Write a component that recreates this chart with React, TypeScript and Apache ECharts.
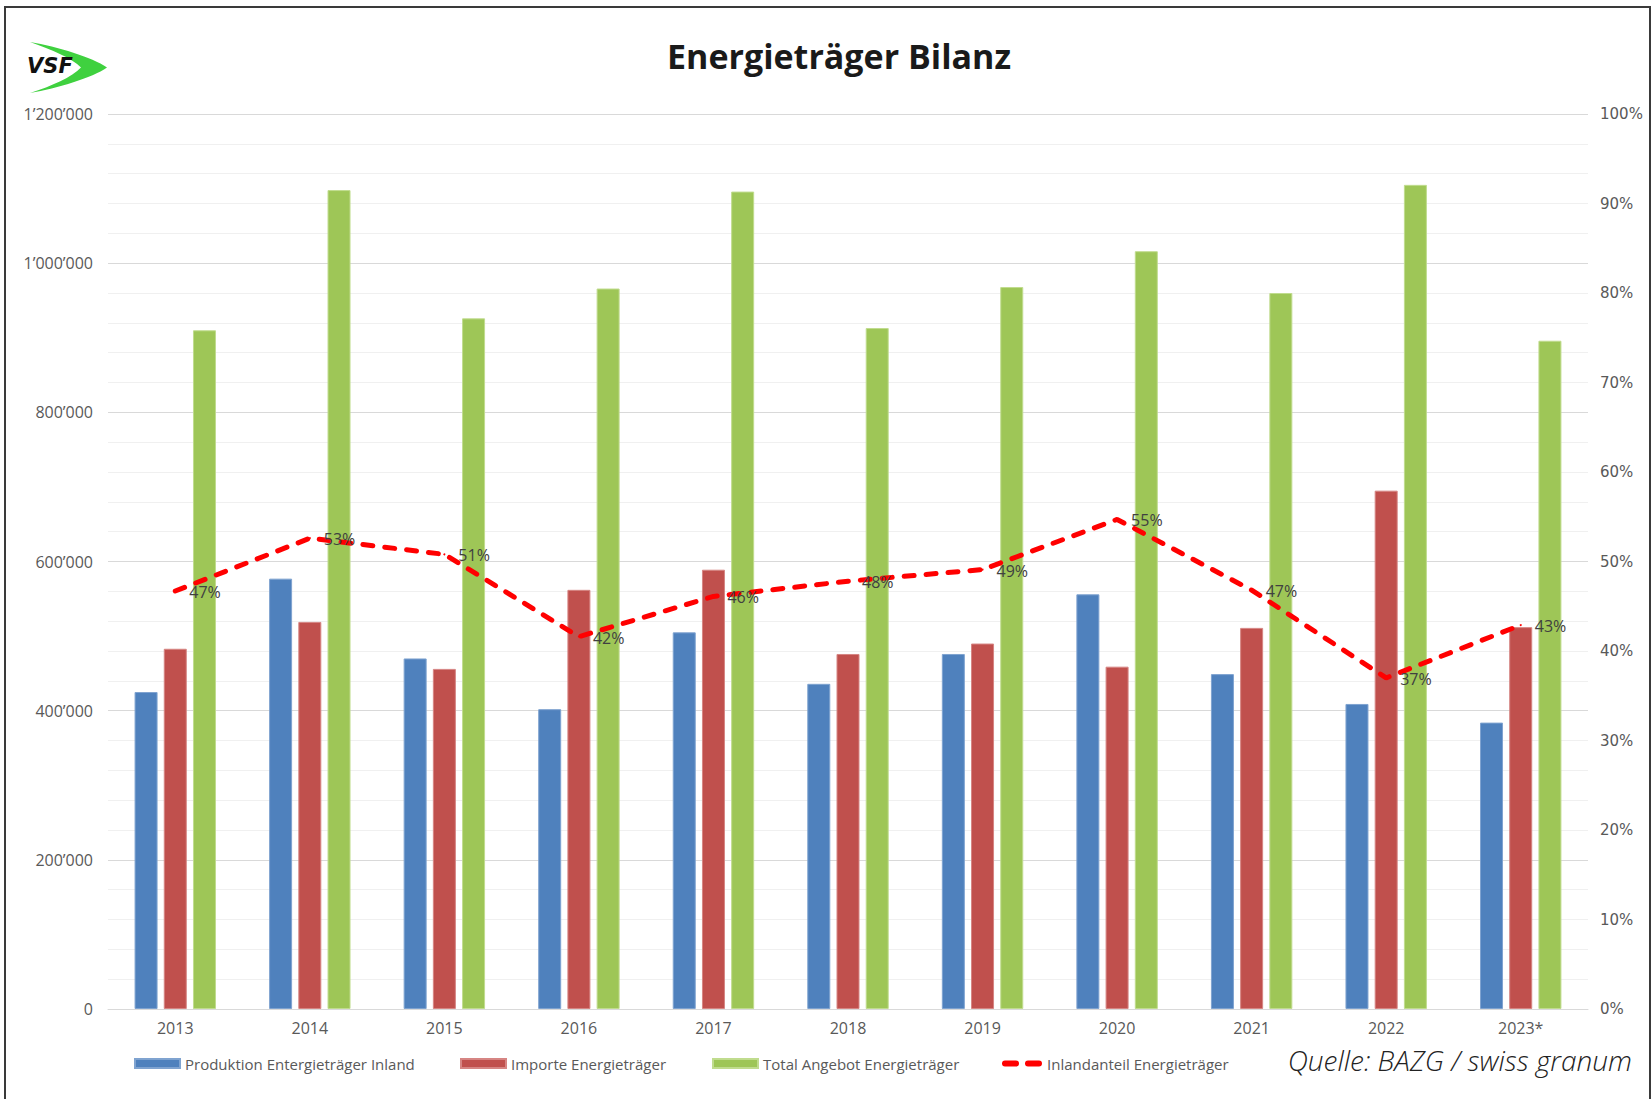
import React, { useEffect, useRef } from 'react';
import * as echarts from 'echarts';

const categories = ['2013', '2014', '2015', '2016', '2017', '2018', '2019', '2020', '2021', '2022', '2023*'];
const produktion = [425000, 577000, 470000, 402000, 505000, 436000, 476000, 556000, 449000, 409000, 384000];
const importe = [483000, 519000, 456000, 562000, 589000, 476000, 490000, 459000, 511000, 695000, 512000];
const totalAngebot = [910000, 1098000, 926000, 966000, 1096000, 913000, 968000, 1016000, 960000, 1105000, 896000];
const inlandanteil = [46.7, 52.6, 50.8, 41.6, 46.1, 47.8, 49.1, 54.7, 46.8, 37.0, 42.9];

const seriesNames = [
  'Produktion Entergieträger Inland',
  'Importe Energieträger',
  'Total Angebot Energieträger',
  'Inlandanteil Energieträger',
];
const titleText = 'Energieträger Bilanz';
const sourceText = 'Quelle: BAZG / swiss granum';

const BLUE = '#4F81BD';
const RED = '#C0504D';
const GREEN = '#9EC657';
const LINE_RED = '#FF0000';
const FONT = '"Open Sans", "Noto Sans", sans-serif';

const swooshPath =
  'M30 42 C58 47 92 57 107 67.5 C92 78 58 88 30 93 C52 86 72 77 81 67.5 C72 58 52 50 30 42 Z';

let registered = false;
function registerShapes() {
  if (registered) return;
  registered = true;
  echarts.graphic.registerShape('vsfSwoosh', echarts.graphic.extendPath(swooshPath, {}));
}

function fmtThousands(v: number): string {
  if (v === 0) return '0';
  return String(v).replace(/\B(?=(\d{3})+(?!\d))/g, '\u2019');
}

export default function App() {
  const ref = useRef<HTMLDivElement>(null);

  useEffect(() => {
    if (!ref.current) return;
    registerShapes();
    const chart = echarts.init(ref.current, undefined, { renderer: 'svg' });

    const legendTop = 1051;
    const legendBase = {
      top: legendTop,
      itemWidth: 45,
      itemHeight: 9,
      textStyle: { fontFamily: FONT, fontSize: 15, color: '#595959' },
      selectedMode: false,
    };

    const option: any = {
      animation: false,
      backgroundColor: '#ffffff',
      grid: { left: 108, right: 63, top: 114, bottom: 90, containLabel: false },
      legend: [
        { ...legendBase, left: 129, data: [{ name: seriesNames[0], icon: 'rect' }] },
        { ...legendBase, left: 455, data: [{ name: seriesNames[1], icon: 'rect' }] },
        { ...legendBase, left: 707, data: [{ name: seriesNames[2], icon: 'rect' }] },
        {
          ...legendBase,
          left: 997,
          itemWidth: 40,
          itemHeight: 6,
          data: [
            {
              name: seriesNames[3],
              icon: 'path://M3,0H14A3,3 0 0 1 14,6H3A3,3 0 0 1 3,0Z M26,0H37A3,3 0 0 1 37,6H26A3,3 0 0 1 26,0Z',
            },
          ],
        },
      ],
      xAxis: {
        type: 'category',
        data: categories,
        boundaryGap: true,
        axisLine: { show: true, lineStyle: { color: '#d9d9d9', width: 1 } },
        axisTick: { show: false },
        axisLabel: { fontFamily: FONT, fontSize: 16, color: '#595959', margin: 11 },
        splitLine: { show: false },
      },
      yAxis: [
        {
          type: 'value',
          min: 0,
          max: 1200000,
          interval: 200000,
          axisLine: { show: false },
          axisTick: { show: false },
          axisLabel: {
            fontFamily: FONT,
            fontSize: 16,
            color: '#595959',
            margin: 15,
            formatter: (v: number) => fmtThousands(v),
          },
          splitLine: { show: true, lineStyle: { color: '#d9d9d9', width: 1 } },
          minorTick: { show: false, splitNumber: 5 },
          minorSplitLine: { show: true, lineStyle: { color: '#f0f0f0', width: 1 } },
        },
        {
          type: 'value',
          min: 0,
          max: 100,
          interval: 10,
          position: 'right',
          axisLine: { show: false },
          axisTick: { show: false },
          splitLine: { show: false },
          axisLabel: {
            fontFamily: '"DejaVu Sans", sans-serif',
            fontSize: 15,
            color: '#595959',
            margin: 12,
            formatter: '{value}%',
          },
        },
      ],
      series: [
        {
          name: seriesNames[0],
          type: 'bar',
          data: produktion,
          barWidth: 23,
          barGap: '27%',
          itemStyle: { color: BLUE, borderColor: '#7fa3d0', borderWidth: 1 },
        },
        {
          name: seriesNames[1],
          type: 'bar',
          data: importe,
          barWidth: 23,
          barGap: '27%',
          itemStyle: { color: RED, borderColor: '#d68583', borderWidth: 1 },
        },
        {
          name: seriesNames[2],
          type: 'bar',
          data: totalAngebot,
          barWidth: 23,
          barGap: '27%',
          itemStyle: { color: GREEN, borderColor: '#c0dc8e', borderWidth: 1 },
        },
        {
          name: seriesNames[3],
          type: 'line',
          yAxisIndex: 1,
          data: inlandanteil,
          symbol: 'circle',
          symbolSize: 2,
          itemStyle: { color: LINE_RED },
          lineStyle: { color: LINE_RED, width: 5, type: [10, 12], cap: 'round' },
          z: 5,
          label: {
            show: true,
            position: 'right',
            distance: 13,
            offset: [0, 1],
            fontFamily: FONT,
            fontSize: 16,
            color: '#404040',
            formatter: (p: any) => Math.round(p.value) + '%',
          },
        },
      ],
      graphic: [
        {
          type: 'rect',
          shape: { x: 5, y: 7, width: 1645, height: 1100 },
          style: { fill: 'none', stroke: '#3a3a3a', lineWidth: 2 },
          silent: true,
        },
        {
          type: 'vsfSwoosh',
          x: 0,
          y: 0,
          style: { fill: '#3fd13f' },
        },
        {
          type: 'text',
          x: 27,
          y: 66,
          style: {
            text: 'VSF',
            fontFamily: '"DejaVu Sans", sans-serif',
            fontWeight: 'bold',
            fontStyle: 'italic',
            fontSize: 21,
            fill: '#111111',
            verticalAlign: 'middle',
          },
        },
        {
          type: 'text',
          x: 839,
          y: 56,
          style: {
            text: titleText,
            fontFamily: FONT,
            fontWeight: 'bold',
            fontSize: 34,
            fill: '#1a1a1a',
            align: 'center',
            verticalAlign: 'middle',
          },
        },
        {
          type: 'text',
          x: 1632,
          y: 1060,
          style: {
            text: sourceText,
            fontFamily: FONT,
            fontStyle: 'italic',
            fontWeight: 300,
            fontSize: 28,
            fill: '#222222',
            align: 'right',
            verticalAlign: 'middle',
          },
        },
      ],
    };

    chart.setOption(option);
    return () => {
      chart.dispose();
    };
  }, []);

  return (
    <div
      ref={ref}
      style={{ position: 'fixed', left: 0, top: 0, width: 1651, height: 1099, background: '#fff' }}
    />
  );
}
